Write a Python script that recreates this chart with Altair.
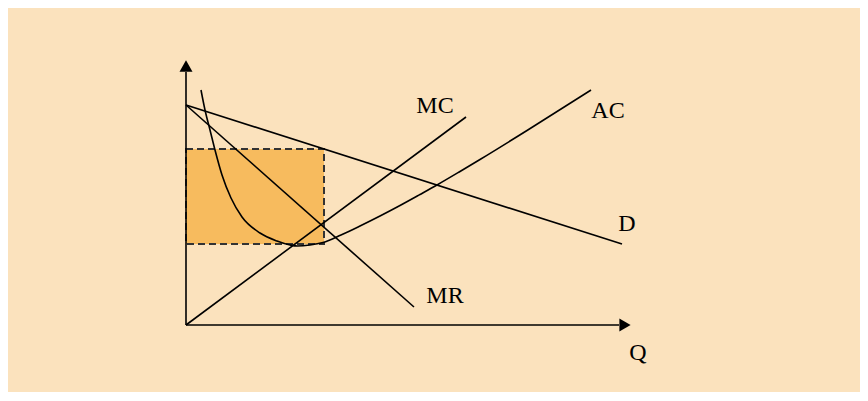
import altair as alt
import pandas as pd

# Economic coordinates: Q (quantity) horizontal, P (price/cost) vertical, origin at the axes' corner
# Straight curves (start/end points)
line_names = ["D", "MR", "MC"]
line_q0 = [0, 0, 0]
line_p0 = [220, 220, 0]
line_q1 = [436, 228, 280]
line_p1 = [81, 18, 208]

# Average cost curve (U-shaped)
ac_q = [15, 19, 24, 29, 36, 45, 56, 74, 91, 104, 111, 124, 137, 155, 174, 194, 214, 234, 251, 274, 294, 341, 405]
ac_p = [235, 215, 195, 175, 150, 127, 108, 92, 84, 80, 79, 80, 82.5, 90, 99, 109, 119.5, 130.5, 140, 153.5, 165.5, 194.5, 235]

# Profit rectangle
rect_q = [0, 138]
rect_p = [81, 176]

# Axes
axis_end_q = 433
axis_end_p = 253

# Labels
label_text = ["MC", "AC", "D", "MR", "Q"]
label_q = [249, 422, 441, 259, 452]
label_p = [212, 207, 94, 22, -35]

X_DOM = [-178, 674]
Y_DOM = [-67, 317]

def xs():
    return alt.Scale(domain=X_DOM, nice=False, zero=False)

def ys():
    return alt.Scale(domain=Y_DOM, nice=False, zero=False)

seg_rows = []
for n, a, b, c, d in zip(line_names, line_q0, line_p0, line_q1, line_p1):
    seg_rows.append({"name": n, "q": a, "p": b, "q2": c, "p2": d})
seg_rows.append({"name": "yaxis", "q": 0, "p": 0, "q2": 0, "p2": axis_end_p})
seg_rows.append({"name": "xaxis", "q": 0, "p": 0, "q2": axis_end_q, "p2": 0})
seg_df = pd.DataFrame(seg_rows)

ac_df = pd.DataFrame({"q": ac_q, "p": ac_p, "i": list(range(len(ac_q)))})
rect_df = pd.DataFrame({"q": [rect_q[0]], "q2": [rect_q[1]], "p": [rect_p[0]], "p2": [rect_p[1]]})
lab_df = pd.DataFrame({"t": label_text, "q": label_q, "p": label_p})
arrow_df = pd.DataFrame({
    "q": [0, axis_end_q + 6],
    "p": [axis_end_p + 6, 0],
    "shape": ["triangle-up", "triangle-right"],
})

base_x = lambda f: alt.X(f, type="quantitative", scale=xs(), axis=None)
base_y = lambda f: alt.Y(f, type="quantitative", scale=ys(), axis=None)

rect = alt.Chart(rect_df).mark_rect(
    fill="#F7BB5E", stroke="#333333", strokeWidth=2, strokeDash=[7, 4]
).encode(x=base_x("q"), x2="q2", y=base_y("p"), y2="p2")

segs = alt.Chart(seg_df).mark_rule(color="black", strokeWidth=1.6).encode(
    x=base_x("q"), y=base_y("p"), x2="q2", y2="p2"
)

ac = alt.Chart(ac_df).mark_line(color="black", strokeWidth=1.6, interpolate="monotone").encode(
    x=base_x("q"), y=base_y("p"), order="i:Q"
)

arrows = alt.Chart(arrow_df).mark_point(filled=True, color="black", size=169, opacity=1).encode(
    x=base_x("q"), y=base_y("p"),
    shape=alt.Shape("shape:N", scale=None, legend=None),
)

labels = alt.Chart(lab_df).mark_text(
    font="Liberation Serif", fontSize=24, color="black", align="center", baseline="alphabetic"
).encode(x=base_x("q"), y=base_y("p"), text="t:N")

chart = alt.layer(rect, segs, ac, arrows, labels).properties(
    width=852, height=384, background="#FBE2BD", padding=0,
    autosize=alt.AutoSizeParams(type="none"),
).configure_view(stroke=None)

chart.save("out.html", embed_options={"renderer": "svg", "actions": False})
